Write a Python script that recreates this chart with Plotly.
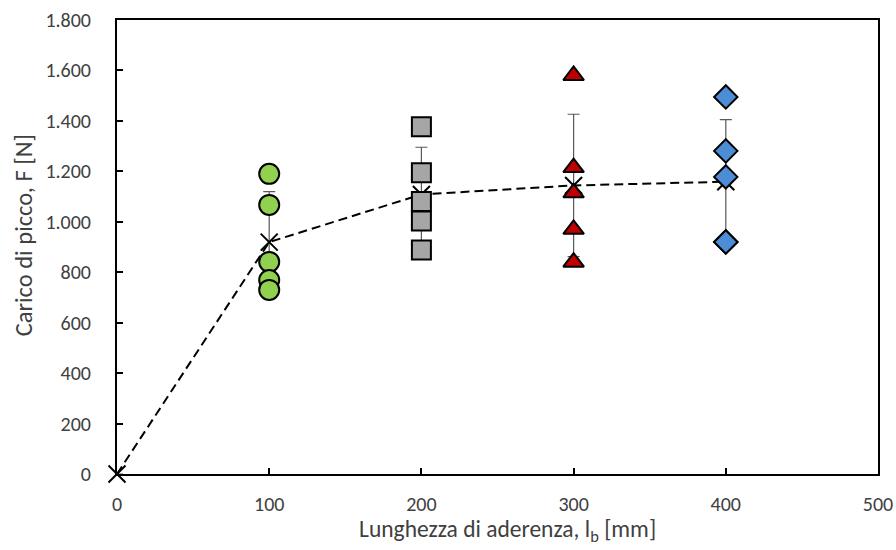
import numpy as np
import plotly.graph_objects as go

# Data
lengths = [100, 200, 300, 400]
loads_100 = [1190, 1067, 841, 769, 730]
loads_200 = [1377, 1194, 1080, 1003, 888]
loads_300 = [1580, 1215, 1115, 970, 840]
loads_400 = [1495, 1281, 1178, 920, 920]

groups = [loads_100, loads_200, loads_300, loads_400]
means = [0.0] + [float(np.mean(g)) for g in groups]
stds = [0.0] + [float(np.std(g, ddof=1)) for g in groups]
mean_x = [0] + lengths

styles = [
    dict(symbol="circle", color="#92D050", size=20),
    dict(symbol="square", color="#A6A6A6", size=19),
    dict(symbol="triangle-up", color="#C00000", size=18),
    dict(symbol="diamond", color="#4C8DD6", size=18),
]

fig = go.Figure()

# Mean curve with error bars
fig.add_trace(go.Scatter(
    x=mean_x, y=means, mode="lines+markers",
    line=dict(color="black", width=2, dash="9px,5px"),
    marker=dict(symbol="x-thin", size=17, line=dict(color="black", width=2)),
    error_y=dict(type="data", array=stds, visible=True, color="#595959",
                 thickness=1.2, width=6),
    cliponaxis=False, showlegend=False,
))

for L, g, st in zip(lengths, groups, styles):
    fig.add_trace(go.Scatter(
        x=[L] * len(g), y=g, mode="markers",
        marker=dict(symbol=st["symbol"], size=st["size"], color=st["color"],
                    line=dict(color="black", width=2)),
        cliponaxis=False, showlegend=False,
    ))

txt = "#404040"
family = "Carlito, Lato, 'Open Sans', sans-serif"

fig.update_layout(
    width=896, height=550,
    margin=dict(l=117, r=18, t=20, b=76),
    paper_bgcolor="white", plot_bgcolor="white",
    separators=",.",
    font=dict(family=family, size=20, color=txt),
    xaxis=dict(
        range=[0, 500], tickvals=[0, 100, 200, 300, 400, 500],
        ticks="inside", ticklen=6, tickcolor="black", tickwidth=1.5,
        showline=True, linecolor="black", linewidth=2, mirror=True,
        showgrid=False, zeroline=False, ticklabelstandoff=11, automargin=False,
        tickfont=dict(size=20, color=txt),
    ),
    yaxis=dict(
        range=[0, 1800], tickvals=list(range(0, 1801, 200)), tickformat=",d",
        ticks="inside", ticklen=6, tickcolor="black", tickwidth=1.5,
        showline=True, linecolor="black", linewidth=2, mirror=True,
        showgrid=False, zeroline=False, ticklabelstandoff=20, automargin=False,
        tickfont=dict(size=20, color=txt),
    ),
    annotations=[
        dict(text="Lunghezza di aderenza, l<sub>b</sub> [mm]", xref="paper", yref="paper",
             x=0.513, y=-0.163, xanchor="center", yanchor="bottom", showarrow=False,
             font=dict(size=23.5, color=txt)),
        dict(text="Carico di picco, F [N]", xref="paper", yref="paper",
             x=-0.122, y=0.526, xanchor="center", yanchor="middle", showarrow=False,
             textangle=-90, font=dict(size=24.5, color=txt)),
    ],
)

fig.write_html("out.html", config={"displayModeBar": False},
               post_script="document.body.style.margin='0';document.body.style.overflow='hidden';")
